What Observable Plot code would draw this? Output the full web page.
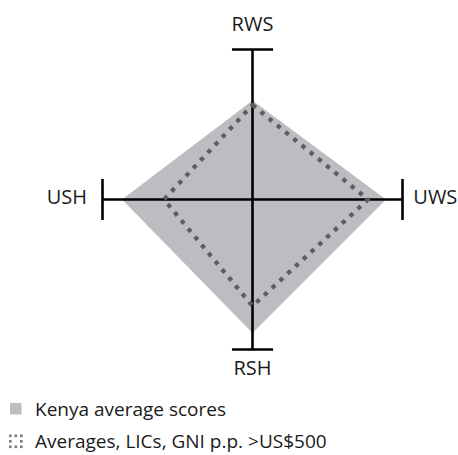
<!DOCTYPE html>
<html>
<head>
<meta charset="utf-8">
<script src="https://cdn.jsdelivr.net/npm/d3@7"></script>
<script src="https://cdn.jsdelivr.net/npm/@observablehq/plot@0.6"></script>
<style>
  html, body { margin: 0; padding: 0; background: #fff; }
  body { width: 458px; height: 455px; position: relative; font-family: "Open Sans", sans-serif; color: #1a1a1a; overflow: hidden; }
  #chart { position: absolute; left: 0; top: 0; }
  .legend { position: absolute; left: 0; font-size: 19px; line-height: 22px; white-space: nowrap; }
  .legend .row { position: absolute; left: 0; height: 22px; display: flex; align-items: center; }
  .legend svg { position: absolute; }
  .legend span { position: absolute; left: 35px; top: 0; }
</style>
</head>
<body>
<div id="chart"></div>
<div class="legend" id="legend"></div>
<script>
// Axis names, clockwise from top
const axisNames = ["RWS", "UWS", "RSH", "USH"];
// Kenya average scores (share of full axis length)
const kenyaScores = [0.66, 0.89, 0.89, 0.87];
// Averages, LICs, GNI p.p. > US$500
const licAverages = [0.63, 0.77, 0.71, 0.59];
// Legend labels
const seriesLabels = ["Kenya average scores", "Averages, LICs, GNI p.p. >US$500"];

const fillGray = "#bcbdc1";
const dotGray = "#5e5e61";

const dirs = {RWS: [0, 1], UWS: [1, 0], RSH: [0, -1], USH: [-1, 0]};

const poly = (vals) => axisNames.map((n, i) => ({axis: n, x: dirs[n][0] * vals[i], y: dirs[n][1] * vals[i]}));
const kenyaPts = poly(kenyaScores);
const avgPts = poly(licAverages);

const axisLines = axisNames.map(n => ({x1: 0, y1: 0, x2: dirs[n][0], y2: dirs[n][1]}));
const capHalf = 0.137;
const caps = axisNames.map(n => {
  const [dx, dy] = dirs[n];
  return {x1: dx - dy * capHalf, y1: dy - dx * capHalf, x2: dx + dy * capHalf, y2: dy + dx * capHalf};
});

const labelDist = {RWS: 1.165, UWS: 1.072, RSH: 1.13, USH: 1.103};
const labels = axisNames.map(n => ({
  name: n,
  x: dirs[n][0] * labelDist[n],
  y: dirs[n][1] * labelDist[n],
  anchor: n === "UWS" ? "start" : n === "USH" ? "end" : "middle"
}));

const chart = Plot.plot({
  width: 458,
  height: 385,
  margin: 0,
  x: {domain: [-1.68, 1.3733], axis: null},
  y: {domain: [-1.24, 1.32667], axis: null},
  style: {fontFamily: "'Open Sans', sans-serif", fontSize: "20px", color: "#1a1a1a", background: "transparent"},
  marks: [
    Plot.line(kenyaPts, {x: "x", y: "y", curve: "linear-closed", fill: fillGray, stroke: "none"}),
    Plot.link(axisLines, {x1: "x1", y1: "y1", x2: "x2", y2: "y2", stroke: "#000", strokeWidth: 2.6}),
    Plot.link(caps, {x1: "x1", y1: "y1", x2: "x2", y2: "y2", stroke: "#000", strokeWidth: 2.6}),
    Plot.line(avgPts, {x: "x", y: "y", curve: "linear-closed", stroke: dotGray, strokeWidth: 4.3, strokeDasharray: "4.3 6.3", strokeLinecap: "butt"}),
    Plot.text(labels.filter(d => d.anchor === "middle"), {x: "x", y: "y", text: "name", textAnchor: "middle", lineAnchor: "middle", fill: "#1a1a1a"}),
    Plot.text(labels.filter(d => d.anchor === "start"), {x: "x", y: "y", text: "name", textAnchor: "start", lineAnchor: "middle", dy: -2, fill: "#1a1a1a"}),
    Plot.text(labels.filter(d => d.anchor === "end"), {x: "x", y: "y", text: "name", textAnchor: "end", lineAnchor: "middle", dy: -2, fill: "#1a1a1a"})
  ]
});
document.getElementById("chart").appendChild(chart);

// Legend
const legend = document.getElementById("legend");
legend.style.top = "0px";
const rowTops = [398, 430];
seriesLabels.forEach((lab, i) => {
  const row = document.createElement("div");
  row.className = "row";
  row.style.top = rowTops[i] + "px";
  row.style.width = "458px";
  const ns = "http://www.w3.org/2000/svg";
  const sw = document.createElementNS(ns, "svg");
  sw.setAttribute("width", 16);
  sw.setAttribute("height", 16);
  sw.style.left = "8px";
  sw.style.top = "3px";
  if (i === 0) {
    const r = document.createElementNS(ns, "rect");
    r.setAttribute("x", 2); r.setAttribute("y", 2);
    r.setAttribute("width", 11.5); r.setAttribute("height", 11.5);
    r.setAttribute("fill", fillGray);
    sw.appendChild(r);
  } else {
    for (let a = 0; a < 3; a++) for (let b = 0; b < 3; b++) {
      if (a === 1 && b === 1) continue;
      const r = document.createElementNS(ns, "rect");
      r.setAttribute("x", 1 + a * 5.5); r.setAttribute("y", 1.5 + b * 5.5);
      r.setAttribute("width", 2.6); r.setAttribute("height", 2.6);
      r.setAttribute("fill", "#7a7a7d");
      sw.appendChild(r);
    }
  }
  row.appendChild(sw);
  const t = document.createElement("span");
  t.textContent = lab;
  row.appendChild(t);
  legend.appendChild(row);
});
</script>
</body>
</html>
